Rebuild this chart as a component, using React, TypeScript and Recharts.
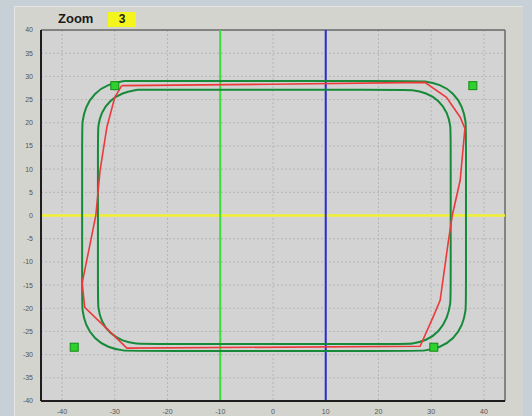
import React from 'react';
import { ComposedChart, Line, Scatter, XAxis, YAxis, CartesianGrid, ReferenceLine } from 'recharts';

// outer green rounded track
const outerX = [-28.2, -26.5, 27.0, 28.6, 31.7, 34.3, 36.0, 36.6, 36.6, 36.6, 36.6, 36.0, 34.3, 31.7, 28.6, 27.0, -26.5, -28.2, -31.3, -33.9, -35.6, -36.2, -36.2, -36.2, -36.2, -35.6, -33.9, -31.3, -28.2];
const outerY = [29.0, 29.0, 29.0, 29.0, 28.3, 26.4, 23.4, 20.0, 18.5, -18.7, -20.2, -23.6, -26.6, -28.5, -29.2, -29.2, -29.2, -29.2, -28.5, -26.6, -23.6, -20.2, -18.7, 18.5, 20.0, 23.4, 26.4, 28.3, 29.0];

// inner green rounded track
const innerX = [-25.7, -24.2, 24.7, 26.2, 29.1, 31.5, 33.1, 33.7, 33.7, 33.7, 33.7, 33.1, 31.5, 29.1, 26.2, 24.7, -24.2, -25.7, -28.6, -31.0, -32.6, -33.2, -33.2, -33.2, -33.2, -32.6, -31.0, -28.6, -25.7];
const innerY = [27.1, 27.1, 27.1, 27.1, 26.5, 24.8, 22.2, 19.1, 17.6, -17.2, -18.7, -22.1, -25.1, -27.0, -27.7, -27.7, -27.7, -27.7, -27.1, -25.4, -22.8, -19.7, -18.2, 17.6, 19.1, 22.2, 24.8, 26.5, 27.1];

// red measured path
const redX = [-28.7, -0.6, 28.8, 32.9, 35.5, 36.4, 35.5, 34.0, 33.2, 31.7, 30.4, 27.9, -27.7, -35.7, -36.2, -33.6, -32.8, -31.5, -30.0, -28.7];
const redY = [28.0, 28.3, 28.7, 25.5, 21.2, 18.8, 7.6, 0.0, -6.0, -18.3, -21.8, -28.2, -28.6, -19.8, -14.6, 0.0, 9.7, 19.1, 25.5, 28.0];

// green square markers
const markX = [-30.0, 37.9, -37.7, 30.5];
const markY = [28.0, 28.0, -28.4, -28.4];

const xTicks = [-40, -30, -20, -10, 0, 10, 20, 30, 40];
const yTicks = [-40, -35, -30, -25, -20, -15, -10, -5, 0, 5, 10, 15, 20, 25, 30, 35, 40];
const zoomLevel = '3';

const zip = (xs: number[], ys: number[]) => xs.map((x, i) => ({ x, y: ys[i] }));

const outerData = zip(outerX, outerY);
const innerData = zip(innerX, innerY);
const redData = zip(redX, redY);
const markData = zip(markX, markY);

const Square = (props: any) => {
  const { cx, cy } = props;
  if (cx == null || cy == null) return null;
  return <rect x={cx - 4} y={cy - 4} width={8} height={8} fill="#2fd12f" stroke="#138a13" strokeWidth={1} />;
};

export default function App() {
  return (
    <div style={{ position: 'absolute', left: 0, top: 0, width: 532, height: 416, background: '#c8d0d7', overflow: 'hidden', fontFamily: 'Arial, "Liberation Sans", sans-serif' }}>
      <div style={{ position: 'absolute', left: 14, top: 6, width: 508, height: 412, background: '#d4d4cf', borderTop: '1px solid #e4e4e0', borderLeft: '1px solid #e4e4e0' }} />
      <div style={{ position: 'absolute', left: 58, top: 11, fontSize: 13, fontWeight: 'bold', color: '#1a1a1a' }}>Zoom</div>
      <div style={{ position: 'absolute', left: 108, top: 12, width: 28, height: 15, background: '#f5f51e', fontSize: 12, fontWeight: 'bold', color: '#1a1a1a', textAlign: 'center', lineHeight: '15px' }}>{zoomLevel}</div>
      <div style={{ position: 'absolute', left: 0, top: 0 }}>
        <ComposedChart width={532} height={416} margin={{ top: 30, right: 27, bottom: 0, left: 11 }}>
          <CartesianGrid stroke="#b6b6b6" strokeDasharray="2 2" fill="#d3d3d3" horizontalValues={yTicks} verticalValues={xTicks} />
          <XAxis type="number" dataKey="x" domain={[-44, 44]} ticks={xTicks} allowDataOverflow height={15}
            axisLine={{ stroke: '#1e1e1e', strokeWidth: 2 }} tickLine={false}
            tick={{ fontSize: 7, fill: '#555' }} interval={0} />
          <YAxis type="number" dataKey="y" domain={[-40, 40]} ticks={yTicks} allowDataOverflow width={30}
            axisLine={{ stroke: '#1e1e1e', strokeWidth: 2 }} tickLine={false}
            tick={{ fontSize: 7, fill: '#555' }} interval={0} />
          <ReferenceLine y={40} stroke="#6a6a6a" strokeWidth={1.5} />
          <ReferenceLine x={44} stroke="#6a6a6a" strokeWidth={1.5} />
          <ReferenceLine y={0} stroke="#f0f032" strokeWidth={2.5} />
          <ReferenceLine x={-10} stroke="#3bdc3b" strokeWidth={2} />
          <ReferenceLine x={10} stroke="#2a2ad6" strokeWidth={2} />
          <Line data={outerData} dataKey="y" type="basis" stroke="#178a3a" strokeWidth={2} dot={false} isAnimationActive={false} />
          <Line data={innerData} dataKey="y" type="basis" stroke="#178a3a" strokeWidth={2} dot={false} isAnimationActive={false} />
          <Line data={redData} dataKey="y" type="linear" stroke="#ec3a3a" strokeWidth={1.6} dot={false} isAnimationActive={false} />
          <Scatter data={markData} dataKey="y" shape={Square} isAnimationActive={false} />
        </ComposedChart>
      </div>
    </div>
  );
}
